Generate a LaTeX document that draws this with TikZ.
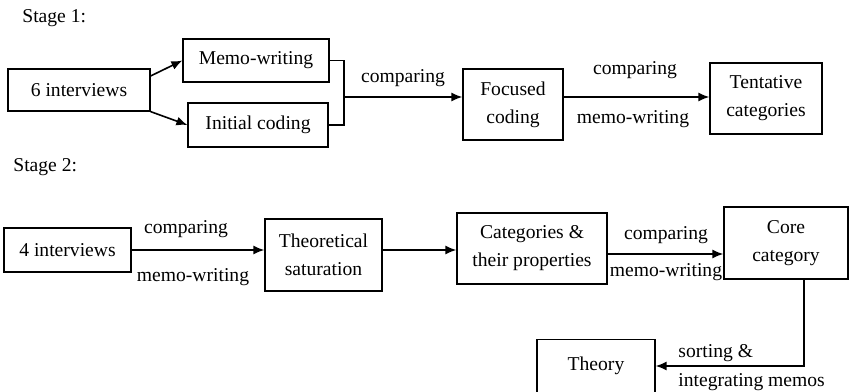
\documentclass[tikz,border=0pt]{standalone}
\usepackage{fontspec}
\setmainfont{Liberation Serif}
\usetikzlibrary{arrows.meta}

\tikzset{
  box/.style={draw, line width=0.6pt, inner sep=0pt, align=center},
  arr/.style={-{Latex[length=5.5pt,width=4.5pt]}, line width=0.8pt},
  lbl/.style={inner sep=0pt},
}

\begin{document}
\begin{tikzpicture}[x=0.5pt, y=-0.5pt, font=\fontsize{9.8}{14}\selectfont]
  \useasboundingbox (0,0) rectangle (850,391);
  \clip (0,0) rectangle (850,391);

  % first stage
  \node (st1) at (22,18) [lbl, anchor=west]{Stage 1:};
  \node (i6) at (79,90) [box, minimum width=71pt, minimum height=21pt]{6 interviews};
  \node (memo) at (256,60.5) [box, minimum width=73pt, minimum height=21.5pt]{Memo-writing};
  \node (init) at (258,125) [box, minimum width=70pt, minimum height=22pt]{Initial coding};
  \node (focus) at (513,104.5) [box, minimum width=50pt, minimum height=35.5pt]{Focused\\coding};
  \node (tent) at (766,98.5) [box, minimum width=56pt, minimum height=35.5pt]{Tentative\\categories};
  \coordinate (join) at (344,97);

  \draw[arr] ([yshift=7pt]i6.east) -- (memo.west);
  \draw[arr] (i6.south east) -- (init.west);
  \draw[line width=0.6pt] (memo.east) -| (join) |- (init.east);
  \draw[arr] (join) -- (join -| focus.west);
  \node (c1) at (403,78) [lbl]{comparing};
  \draw[arr] (focus.east |- join) -- (join -| tent.west);
  \node (c2) at (635,70) [lbl]{comparing};
  \node (m2) at (633,119) [lbl]{memo-writing};

  % second stage
  \node (st2) at (13,167) [lbl, anchor=west]{Stage 2:};
  \node (i4) at (67.5,250) [box, minimum width=63.5pt, minimum height=22pt]{4 interviews};
  \node (theo) at (323.5,255) [box, minimum width=58.5pt, minimum height=36pt]{Theoretical\\saturation};
  \node (cats) at (532,248.5) [box, minimum width=75pt, minimum height=35.5pt]{Categories \&\\their properties};
  \node (core) at (786,243) [box, minimum width=62pt, minimum height=36pt]{Core\\category};
  \node (theory) at (596,366) [box, minimum width=59pt, minimum height=26.5pt]{Theory};

  \draw[arr] (i4.east) -- (i4.east -| theo.west);
  \node (c3) at (186,229) [lbl]{comparing};
  \node (m3) at (193,277) [lbl]{memo-writing};
  \draw[arr] (theo.east |- i4.east) -- (i4.east -| cats.west);
  \draw[arr] ([yshift=-2.75pt]cats.east) -- ([yshift=-2.75pt]cats.east -| core.west);
  \node (c4) at (666,235) [lbl]{comparing};
  \node (m4) at (666,272) [lbl]{memo-writing};
  \draw[arr] ([xshift=9pt]core.south) |- (theory.east);
  \node (s5) at (678,353) [lbl, anchor=west]{sorting \&};
  \node (g5) at (678,382) [lbl, anchor=west]{integrating memos};
\end{tikzpicture}
\end{document}
